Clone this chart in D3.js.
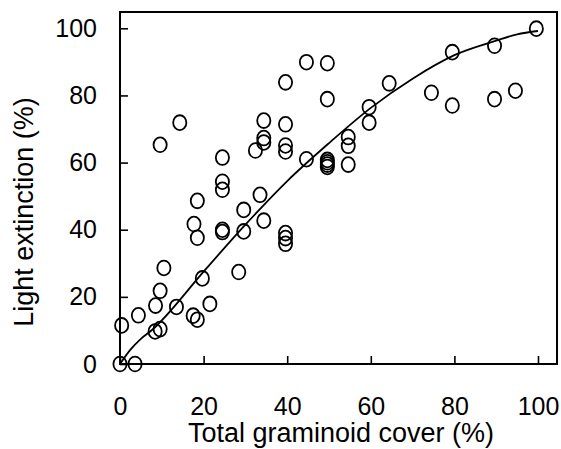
<!DOCTYPE html>
<html>
<head>
<meta charset="utf-8">
<script src="https://cdn.jsdelivr.net/npm/d3@7"></script>
<style>
  html, body { margin: 0; padding: 0; background: #fff; }
  svg { display: block; font-family: "Liberation Sans", Arial, sans-serif; }
  .axis text { font-size: 25px; fill: #000; }
  .axis line { stroke: #000; stroke-width: 1.6; }
  .title { font-size: 27px; fill: #000; }
</style>
</head>
<body>
<svg id="chart" width="561" height="449"></svg>
<script>
  // graminoid cover (%) vs light extinction (%)
  const coverX = [44.6, 49.6, 39.6, 49.6, 14.3, 34.4, 39.6, 9.6, 34.4, 34.4,
    32.4, 39.6, 39.6, 44.6, 49.6, 49.6, 49.6, 49.6, 24.5, 24.5,
    24.5, 18.5, 33.5, 99.6, 89.6, 79.5, 64.4, 74.5, 79.5, 89.6,
    94.6, 59.6, 59.6, 54.6, 54.6, 54.6, 29.6, 34.4, 17.7, 18.5,
    24.5, 24.5, 29.6, 39.6, 39.6, 39.6, 10.5, 19.7, 28.4, 9.6,
    8.5, 13.5, 21.5, 4.4, 17.5, 18.5, 0.4, 8.4, 9.6, 0, 3.6];
  const extinctionY = [89.9, 89.6, 83.9, 78.9, 71.9, 72.5, 71.4, 65.3, 67.3, 66.0,
    63.6, 65.1, 63.3, 61.0, 60.8, 60.1, 59.4, 58.7, 61.5, 54.3,
    51.9, 48.6, 50.4, 99.9, 94.8, 92.9, 83.6, 80.8, 77.0, 78.9,
    81.4, 76.5, 71.9, 67.6, 65.0, 59.4, 45.9, 42.7, 41.7, 37.6,
    40.0, 39.3, 39.5, 39.0, 37.5, 35.8, 28.6, 25.5, 27.4, 21.8,
    17.4, 17.0, 17.9, 14.5, 14.4, 13.2, 11.5, 9.7, 10.4, 0, 0];

  // fitted curve
  const curveX = [0, 2.5, 5, 8, 10, 20, 30, 40, 50, 60, 70, 80, 90, 95, 100];
  const curveY = [0, 4.3, 7.5, 10.5, 13, 27.5, 41.5, 54.5, 65.8, 76.3, 85, 92, 96.3, 98.2, 99.2];

  const xTicks = [0, 20, 40, 60, 80, 100];
  const yTicks = [0, 20, 40, 60, 80, 100];

  const svg = d3.select('#chart');
  const frame = { left: 120, top: 12, right: 557, bottom: 364 };

  const x = d3.scaleLinear().domain([0, 100]).range([120, 538]);
  const y = d3.scaleLinear().domain([0, 100]).range([364, 28.3]);

  // frame box
  svg.append('rect')
    .attr('x', frame.left).attr('y', frame.top)
    .attr('width', frame.right - frame.left)
    .attr('height', frame.bottom - frame.top)
    .attr('fill', 'none').attr('stroke', '#000').attr('stroke-width', 2);

  // axes, ticks pointing inward
  const gx = svg.append('g').attr('class', 'axis')
    .attr('transform', 'translate(0,' + frame.bottom + ')')
    .call(d3.axisBottom(x).tickValues(xTicks).tickSizeInner(-8).tickSizeOuter(0).tickPadding(33));
  const gy = svg.append('g').attr('class', 'axis')
    .attr('transform', 'translate(' + frame.left + ',0)')
    .call(d3.axisLeft(y).tickValues(yTicks).tickSizeInner(-8).tickSizeOuter(0).tickPadding(23));
  gx.select('.domain').remove();
  gy.select('.domain').remove();
  svg.selectAll('.axis').attr('font-family', null).attr('font-size', null);

  // curve
  const line = d3.line()
    .x(d => x(d[0]))
    .y(d => y(d[1]))
    .curve(d3.curveMonotoneX);
  svg.append('path')
    .datum(d3.zip(curveX, curveY))
    .attr('d', line)
    .attr('fill', 'none').attr('stroke', '#000').attr('stroke-width', 1.8);

  // points
  svg.append('g').selectAll('ellipse')
    .data(d3.zip(coverX, extinctionY))
    .join('ellipse')
    .attr('cx', d => x(d[0]))
    .attr('cy', d => y(d[1]))
    .attr('rx', 6.6).attr('ry', 7.4)
    .attr('fill', 'none').attr('stroke', '#000').attr('stroke-width', 1.8);

  // titles
  svg.append('text').attr('class', 'title')
    .attr('x', 341).attr('y', 442)
    .attr('text-anchor', 'middle')
    .text('Total graminoid cover (%)');
  svg.append('text').attr('class', 'title')
    .attr('transform', 'translate(33,212) rotate(-90)')
    .attr('text-anchor', 'middle')
    .text('Light extinction (%)');
</script>
</body>
</html>
